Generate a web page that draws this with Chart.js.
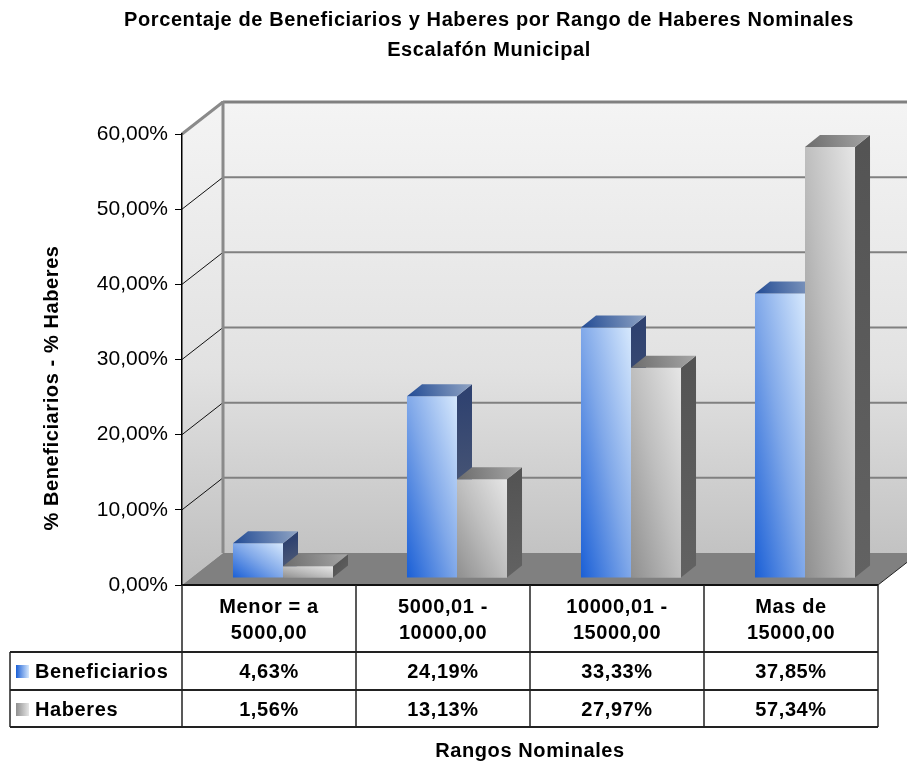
<!DOCTYPE html>
<html>
<head>
<meta charset="utf-8">
<script src="https://cdn.jsdelivr.net/npm/chart.js@4.4.1/dist/chart.umd.min.js"></script>
<style>
  html, body { margin: 0; padding: 0; background: #fff; }
</style>
</head>
<body>
<canvas id="chart" width="907" height="762"></canvas>
<script>
// data
const categories = [["Menor = a", "5000,00"], ["5000,01 -", "10000,00"], ["10000,01 -", "15000,00"], ["Mas de", "15000,00"]];
const seriesNames = ["Beneficiarios", "Haberes"];
const beneficiarios = [4.63, 24.19, 33.33, 37.85];
const haberes = [1.56, 13.13, 27.97, 57.34];
const yTicks = [0, 10, 20, 30, 40, 50, 60];
const titleLines = ["Porcentaje de Beneficiarios y Haberes por Rango de Haberes Nominales", "Escalafón Municipal"];
const yTitle = "% Beneficiarios - % Haberes";
const xTitle = "Rangos Nominales";

const FONT = '"Liberation Sans", Arial, sans-serif';
const CAT_PCT = 0.575;
const DEPTH_X = 41, DEPTH_Y = 32;        // depth of the walls / floor
const SHIFT_X = 14, SHIFT_Y = 7;         // bars stand a bit behind the front edge
const BAR_DX = 15, BAR_DY = 12;          // depth of each bar
const BEN_FRONT = ["#1a5fd6", "#80a8e9", "#d6e8fd"];
const HAB_FRONT = ["#8f8f8f", "#bebebe", "#e6e6e6"];

function pct(v) {
    return v.toFixed(2).replace(".", ",") + "%";
}

// diagonal fill that stretches with the bar like the office gradient
function frontFill(c) {
    const stops = c.datasetIndex === 0 ? BEN_FRONT : HAB_FRONT;
    const chart = c.chart;
    if (!chart.chartArea || !chart.scales.x) return stops[1];
    const xs = chart.scales.x, ys = chart.scales.y;
    const w = xs.width / categories.length * CAT_PCT / 2;
    const left = xs.getPixelForValue(c.dataIndex) - w + c.datasetIndex * w;
    const bottom = ys.getPixelForValue(0);
    const h = Math.max(bottom - ys.getPixelForValue(c.raw), 1);
    const ax = 1 / (2 * w), ay = -1 / (2 * h);
    const n = ax * ax + ay * ay;
    const g = chart.ctx.createLinearGradient(left, bottom, left + ax / n, bottom + ay / n);
    g.addColorStop(0, stops[0]);
    g.addColorStop(0.5, stops[1]);
    g.addColorStop(1, stops[2]);
    return g;
}

function text(ctx, str, x, y, size, bold, align) {
    ctx.font = (bold ? "bold " : "") + size + "px " + FONT;
    ctx.textAlign = align || "center";
    ctx.textBaseline = "middle";
    ctx.fillStyle = "#000";
    ctx.fillText(str, x, y);
}

function line(ctx, x1, y1, x2, y2, color, width) {
    ctx.beginPath();
    ctx.moveTo(x1, y1);
    ctx.lineTo(x2, y2);
    ctx.strokeStyle = color;
    ctx.lineWidth = width;
    ctx.stroke();
}

function poly(ctx, pts, fill) {
    ctx.beginPath();
    ctx.moveTo(pts[0][0], pts[0][1]);
    for (let i = 1; i < pts.length; i++) ctx.lineTo(pts[i][0], pts[i][1]);
    ctx.closePath();
    ctx.fillStyle = fill;
    ctx.fill();
}

// top and side faces of a bar
function drawBlock(ctx, bar, topCols, sideCols) {
    const {x, y, base, width} = bar.getProps(["x", "y", "base", "width"], true);
    const l = x - width / 2, r = x + width / 2;

    let g = ctx.createLinearGradient(r, y, r + BAR_DX, base);
    g.addColorStop(0, sideCols[0]);
    g.addColorStop(1, sideCols[1]);
    poly(ctx, [[r, y], [r + BAR_DX, y - BAR_DY], [r + BAR_DX, base - BAR_DY], [r, base]], g);

    g = ctx.createLinearGradient(l, y, r + BAR_DX, y - BAR_DY);
    g.addColorStop(0, topCols[0]);
    g.addColorStop(1, topCols[1]);
    poly(ctx, [[l, y], [r, y], [r + BAR_DX, y - BAR_DY], [l + BAR_DX, y - BAR_DY]], g);
}

const box3d = {
    id: "box3d",
    beforeDraw(chart) {
        const {ctx, chartArea: a, scales: {y}} = chart;
        const y0 = y.getPixelForValue(0), yTop = y.getPixelForValue(y.max);
        ctx.save();
        const wall = ctx.createLinearGradient(0, yTop - DEPTH_Y, 0, y0);
        wall.addColorStop(0, "#f4f4f4");
        wall.addColorStop(0.55, "#e2e2e2");
        wall.addColorStop(1, "#bdbdbd");
        // side wall
        poly(ctx, [[a.left, yTop], [a.left + DEPTH_X, yTop - DEPTH_Y], [a.left + DEPTH_X, y0 - DEPTH_Y], [a.left, y0]], wall);
        // back wall
        poly(ctx, [[a.left + DEPTH_X, yTop - DEPTH_Y], [a.right + DEPTH_X, yTop - DEPTH_Y], [a.right + DEPTH_X, y0 - DEPTH_Y], [a.left + DEPTH_X, y0 - DEPTH_Y]], wall);

        yTicks.forEach(v => {
            if (v === 0) return;
            const yy = y.getPixelForValue(v);
            const top = v === y.max;
            line(ctx, a.left + DEPTH_X, yy - DEPTH_Y, a.right + DEPTH_X, yy - DEPTH_Y, "#808080", top ? 3 : 2);
            line(ctx, a.left, yy, a.left + DEPTH_X, yy - DEPTH_Y, top ? "#8a8a8a" : "#111", top ? 3 : 1);
        });
        line(ctx, a.left + DEPTH_X, yTop - DEPTH_Y - 1, a.left + DEPTH_X, y0 - DEPTH_Y, "#8a8a8a", 3);

        // floor
        poly(ctx, [[a.left, y0], [a.right, y0], [a.right + DEPTH_X, y0 - DEPTH_Y], [a.left + DEPTH_X, y0 - DEPTH_Y]], "#808080");
        line(ctx, a.right, y0, a.right + DEPTH_X, y0 - DEPTH_Y, "#222", 1);
        ctx.restore();
    },
    beforeDatasetsDraw(chart) {
        chart.ctx.save();
        chart.ctx.translate(SHIFT_X, -SHIFT_Y);
    },
    afterDatasetsDraw(chart) {
        const ctx = chart.ctx;
        chart.getDatasetMeta(0).data.forEach(bar => drawBlock(ctx, bar, ["#224b94", "#90a4c4"], ["#2f4270", "#5e6779"]));
        // the Haberes fronts sit in front of the Beneficiarios sides
        chart.getDatasetMeta(1).data.forEach(bar => bar.draw(ctx));
        chart.getDatasetMeta(1).data.forEach(bar => drawBlock(ctx, bar, ["#6c6c6c", "#a6a6a6"], ["#545454", "#626262"]));
        ctx.restore();
    },
    afterDraw(chart) {
        const {ctx, chartArea: a, scales: {x, y}} = chart;
        const y0 = y.getPixelForValue(0);
        const catW = x.width / categories.length;
        const headH = 67, rowH = 38, tableLeft = 10;
        const r1 = y0 + headH, r2 = r1 + rowH, r3 = r2 + rowH - 1;
        ctx.save();
        ctx.letterSpacing = "0.6px";

        // titles
        text(ctx, titleLines[0], 489, 20, 20, true);
        text(ctx, titleLines[1], 489, 50, 20, true);
        ctx.save();
        ctx.translate(52, 388);
        ctx.rotate(-Math.PI / 2);
        text(ctx, yTitle, 0, 0, 20, true);
        ctx.restore();

        // data table under the floor
        line(ctx, a.left, y0, a.right, y0, "#111", 2);
        [r1, r2, r3].forEach(yy => line(ctx, tableLeft, yy, a.right, yy, "#222", 2));
        line(ctx, tableLeft, r1, tableLeft, r3, "#222", 1.5);
        for (let i = 0; i <= categories.length; i++) {
            const xx = a.left + i * catW;
            line(ctx, xx, y0, xx, r3, "#222", 1.5);
        }

        categories.forEach((cat, i) => {
            const cx = x.getPixelForValue(i);
            text(ctx, cat[0], cx, y0 + 22, 20, true);
            text(ctx, cat[1], cx, y0 + 48, 20, true);
            text(ctx, pct(beneficiarios[i]), cx, r1 + 20, 20, true);
            text(ctx, pct(haberes[i]), cx, r2 + 20, 20, true);
        });

        [[BEN_FRONT, r1 + 20], [HAB_FRONT, r2 + 20]].forEach(([cols, yy], k) => {
            const g = ctx.createLinearGradient(16, 0, 29, 0);
            g.addColorStop(0, cols[0]);
            g.addColorStop(1, cols[2]);
            ctx.fillStyle = g;
            ctx.fillRect(16, yy - 7, 13, 13);
            text(ctx, seriesNames[k], 35, yy, 20, true, "left");
        });

        text(ctx, xTitle, (a.left + a.right) / 2, 751, 20, true);
        ctx.restore();
    }
};

new Chart(document.getElementById("chart"), {
    type: "bar",
    data: {
        labels: categories,
        datasets: [
            { label: seriesNames[0], data: beneficiarios, backgroundColor: frontFill },
            { label: seriesNames[1], data: haberes, backgroundColor: frontFill }
        ]
    },
    options: {
        responsive: false,
        devicePixelRatio: 1,
        animation: false,
        layout: { padding: { left: 0, right: 29, top: 134, bottom: 177 } },
        datasets: {
            bar: {
                borderWidth: 0,
                categoryPercentage: CAT_PCT,
                barPercentage: 1,
                clip: false
            }
        },
        plugins: {
            legend: { display: false },
            tooltip: { enabled: false },
            title: { display: false }
        },
        scales: {
            x: { display: false, offset: true },
            y: {
                min: 0,
                max: 60,
                afterFit: s => { s.width = 182; },
                afterBuildTicks: s => { s.ticks = yTicks.map(v => ({ value: v })); },
                ticks: {
                    color: "#000",
                    padding: 7,
                    font: { family: FONT, size: 21 },
                    callback: v => pct(v)
                },
                grid: { drawOnChartArea: false, drawTicks: true, tickLength: 7, tickColor: "#000", tickWidth: 1 },
                border: { display: true, color: "#000", width: 1.5 }
            }
        }
    },
    plugins: [box3d]
});
</script>
</body>
</html>
